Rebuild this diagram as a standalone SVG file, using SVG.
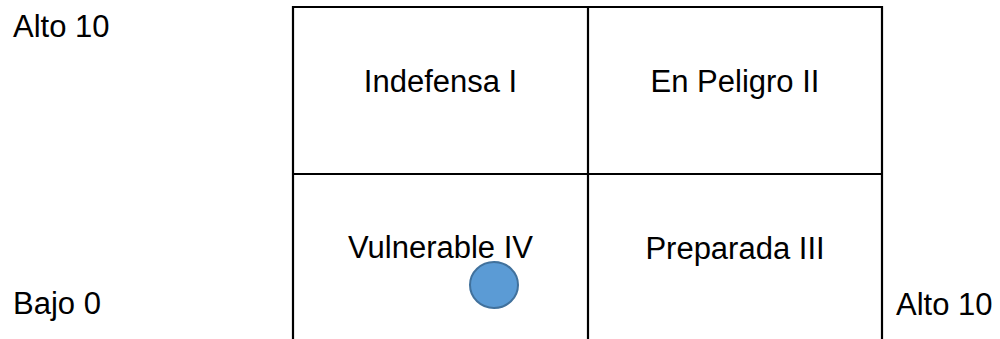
<svg xmlns="http://www.w3.org/2000/svg" width="1000" height="339" viewBox="0 0 1000 339">
<style>
.t{font-family:"Liberation Sans",Arial,sans-serif;font-size:31px;fill:#000}
.c{text-anchor:middle}
.ln{stroke:#000;stroke-width:2.2;fill:none}
</style>
<rect width="1000" height="339" fill="#fff"/>
<g id="grid">
<path class="ln" d="M293,340 V7 H882 V340"/>
<path class="ln" d="M588,7 V340"/>
<path class="ln" d="M293,174 H882"/>
</g>
<g id="q1"><text class="t c" x="440.5" y="92">Indefensa I</text></g>
<g id="q2"><text class="t c" x="735" y="92">En Peligro II</text></g>
<g id="q4"><text class="t c" x="440.5" y="258">Vulnerable IV</text></g>
<g id="q3"><text class="t c" x="735" y="259">Preparada III</text></g>
<g id="axis-top"><text class="t" x="13" y="37">Alto 10</text></g>
<g id="axis-bottom"><text class="t" x="13" y="314">Bajo 0</text></g>
<g id="axis-right"><text class="t" x="896" y="315">Alto 10</text></g>
<g id="point"><ellipse cx="494" cy="285" rx="24" ry="23" fill="#5b9bd5" stroke="#41719c" stroke-width="2"/></g>
<g id="connectors"></g>
</svg>
